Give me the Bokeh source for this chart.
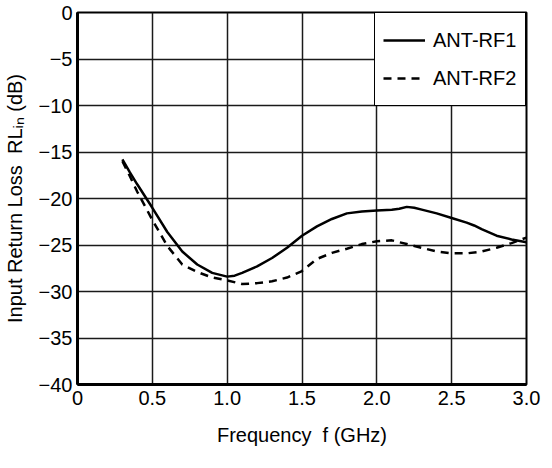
from bokeh.plotting import figure
from bokeh.models import FixedTicker, Legend, LegendItem, Range1d
from bokeh.embed import file_html
from bokeh.resources import INLINE

# ---- data ----
rf1_freq = [0.3, 0.35, 0.4, 0.5, 0.6, 0.7, 0.8, 0.9, 1.0, 1.05, 1.1, 1.2, 1.3, 1.4,
            1.5, 1.6, 1.7, 1.8, 1.9, 2.0, 2.1, 2.15, 2.2, 2.25, 2.3, 2.4, 2.5, 2.6,
            2.65, 2.7, 2.8, 2.9, 3.0]
rf1_rl = [-15.8, -17.2, -18.5, -21.0, -23.6, -25.7, -27.1, -28.0, -28.4, -28.3, -28.0,
          -27.3, -26.4, -25.3, -24.0, -23.0, -22.2, -21.6, -21.4, -21.3, -21.2, -21.1,
          -20.9, -21.0, -21.2, -21.6, -22.1, -22.6, -22.9, -23.3, -24.0, -24.4, -24.7]

rf2_freq = [0.3, 0.35, 0.4, 0.5, 0.6, 0.7, 0.8, 0.9, 1.0, 1.1, 1.2, 1.3, 1.4, 1.5,
            1.6, 1.7, 1.8, 1.9, 2.0, 2.1, 2.2, 2.3, 2.4, 2.5, 2.6, 2.7, 2.8, 2.9, 3.0]
rf2_rl = [-16.0, -17.6, -19.3, -22.3, -25.1, -27.1, -27.9, -28.5, -28.8, -29.2, -29.1,
          -28.9, -28.5, -27.8, -26.5, -25.85, -25.4, -24.9, -24.6, -24.5, -24.9, -25.3,
          -25.7, -25.9, -25.9, -25.7, -25.3, -24.8, -24.2]

series_names = ["ANT-RF1", "ANT-RF2"]

x_ticks = [0, 0.5, 1.0, 1.5, 2.0, 2.5, 3.0]
x_tick_labels = ["0", "0.5", "1.0", "1.5", "2.0", "2.5", "3.0"]
y_ticks = [0, -5, -10, -15, -20, -25, -30, -35, -40]
y_tick_labels = ["0", "\u22125", "\u221210", "\u221215", "\u221220", "\u221225",
                 "\u221230", "\u221235", "\u221240"]

x_label = "Frequency \u00a0f (GHz)"
y_label = "Input Return Loss \u00a0RL\u1d62\u2099 (dB)"

FONT = "Liberation Sans"

p = figure(width=544, height=452, output_backend="svg", toolbar_location=None,
           x_range=Range1d(0, 3), y_range=Range1d(-40, 0),
           min_border_left=73, min_border_right=18, min_border_top=12,
           min_border_bottom=68)

p.background_fill_color = "white"
p.border_fill_color = "white"
p.outline_line_color = "black"
p.outline_line_width = 2
p.outline_line_alpha = 1.0

for ax in (p.xaxis[0], p.yaxis[0]):
    ax.major_tick_in = 0
    ax.major_tick_out = 0
    ax.minor_tick_in = 0
    ax.minor_tick_out = 0
    ax.axis_line_color = "black"
    ax.axis_line_width = 3
    ax.major_label_text_font = FONT
    ax.major_label_text_font_size = "20px"
    ax.major_label_text_color = "black"
    ax.axis_label_text_font = FONT
    ax.axis_label_text_font_size = "20px"
    ax.axis_label_text_font_style = "normal"
    ax.axis_label_text_color = "black"

p.xaxis[0].ticker = FixedTicker(ticks=x_ticks)
p.xaxis[0].major_label_overrides = dict(zip(x_ticks, x_tick_labels))
p.yaxis[0].ticker = FixedTicker(ticks=y_ticks)
p.yaxis[0].major_label_overrides = dict(zip(y_ticks, y_tick_labels))
p.xaxis[0].axis_label = x_label
p.yaxis[0].axis_label = y_label
p.xaxis[0].major_label_standoff = 6
p.yaxis[0].major_label_standoff = 5
p.xaxis[0].axis_label_standoff = 16
p.yaxis[0].axis_label_standoff = 10

for g in (p.xgrid[0], p.ygrid[0]):
    g.grid_line_color = "#1a1a1a"
    g.grid_line_width = 1.5

r1 = p.line(rf1_freq, rf1_rl, line_color="black", line_width=2.5)
r2 = p.line(rf2_freq, rf2_rl, line_color="black", line_width=2.5, line_dash="8 6")

legend = Legend(items=[LegendItem(label=series_names[0], renderers=[r1]),
                       LegendItem(label=series_names[1], renderers=[r2])],
                location="top_right", margin=0, padding=8, spacing=0,
                glyph_width=42, glyph_height=38, label_height=38, label_width=84,
                label_standoff=8,
                border_line_color="black", border_line_width=1.5,
                border_line_alpha=1.0,
                background_fill_color="white", background_fill_alpha=1.0,
                label_text_font=FONT, label_text_font_size="20px",
                label_text_color="black")
p.add_layout(legend)

open("out.html", "w").write(file_html(p, INLINE))
